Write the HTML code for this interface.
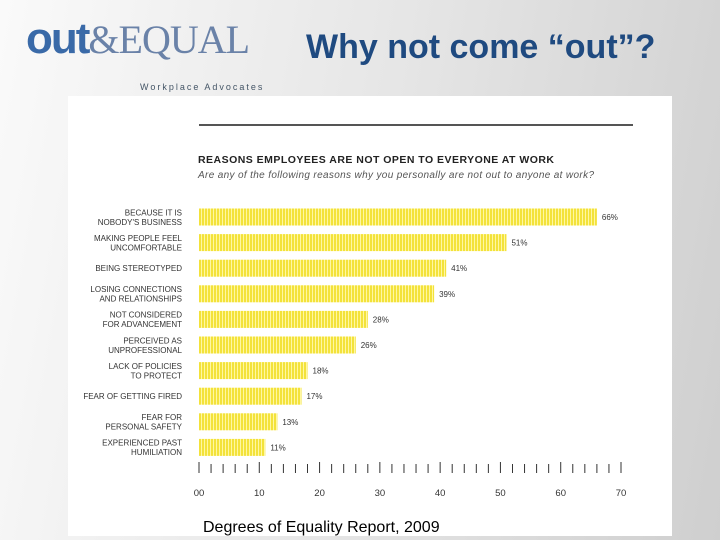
<!DOCTYPE html>
<html><head><meta charset="utf-8"><style>
body{margin:0;width:720px;height:540px;overflow:hidden;font-family:"Liberation Sans",sans-serif;
background:linear-gradient(100deg,#fafafa 0%,#e6e6e6 50%,#cfcfcf 100%);position:relative}
</style></head><body>
<div style="position:absolute;left:26px;top:14px;width:260px;height:78px">
<span style="font:bold 44px 'Liberation Sans',sans-serif;color:#3a6aa8;letter-spacing:-2px">out</span><span style="font:40px 'Liberation Serif',serif;color:#6a82a8;letter-spacing:-1px">&amp;EQUAL</span>
<div style="position:absolute;left:114px;top:68px;font-size:9px;letter-spacing:2px;color:#456">Workplace Advocates</div>
</div>
<div style="position:absolute;left:306px;top:28px;font:bold 34px 'Liberation Sans',sans-serif;color:#1f4a80">Why not come “out”?</div>
<svg style="position:absolute;left:0;top:0" width="720" height="540">
<defs><pattern id="st" width="3" height="10" patternUnits="userSpaceOnUse"><rect width="3" height="10" fill="#f3e23a"/><rect width="1" height="10" fill="#fff7a0"/></pattern></defs>
<rect x="68" y="96" width="604" height="440" fill="#fff"/>
<line x1="199" y1="125" x2="633" y2="125" stroke="#555" stroke-width="2"/>
<text x="198" y="163" font-size="10.5" font-weight="bold" fill="#222" textLength="356">REASONS EMPLOYEES ARE NOT OPEN TO EVERYONE AT WORK</text>
<text x="198" y="178" font-size="10" font-style="italic" fill="#555" textLength="396">Are any of the following reasons why you personally are not out to anyone at work?</text>
<g id="bars"></g><g id="axis"></g>
<text x="203" y="532" font-size="16" fill="#000">Degrees of Equality Report, 2009</text>
</svg>
<script>
const labels=[["BECAUSE IT IS","NOBODY'S BUSINESS"],["MAKING PEOPLE FEEL","UNCOMFORTABLE"],["BEING STEREOTYPED"],["LOSING CONNECTIONS","AND RELATIONSHIPS"],["NOT CONSIDERED","FOR ADVANCEMENT"],["PERCEIVED AS","UNPROFESSIONAL"],["LACK OF POLICIES","TO PROTECT"],["FEAR OF GETTING FIRED"],["FEAR FOR","PERSONAL SAFETY"],["EXPERIENCED PAST","HUMILIATION"]];
const values=[66,51,41,39,28,26,18,17,13,11];
const ticks=["00","10","20","30","40","50","60","70"];
const NS="http://www.w3.org/2000/svg";
const x=v=>199+v*(422/70), y=i=>217+i*25.6;
const bars=document.getElementById('bars'), ax=document.getElementById('axis');
function mk(t,a,p){const e=document.createElementNS(NS,t);for(const k in a)e.setAttribute(k,a[k]);p.appendChild(e);return e;}
values.forEach((v,i)=>{
 const r=mk('rect',{x:x(0),y:y(i)-8.5,width:x(v)-x(0),height:17,fill:'url(#st)'},bars);
 
 
 const t=mk('text',{x:x(v)+5,y:y(i)+3,'font-size':8,fill:'#333'},bars);t.textContent=v+'%';
 
 
 const L=labels[i], l=mk('text',{'text-anchor':'end','font-size':8,fill:'#333'},bars);
 
 
 L.forEach((s,j)=>{const ts=mk('tspan',{x:182,y:y(i)+3+(j-(L.length-1)/2)*9.5},l);ts.textContent=s;});
});
for(let k=0;k<=35;k++){const v=k*2;const big=v%10==0;mk('line',{x1:x(v),x2:x(v),y1:big?462:464,y2:473,stroke:'#333','stroke-width':1},ax);}
ticks.forEach((s,i)=>{const t=mk('text',{x:x(i*10),y:496,'font-size':9.5,fill:'#333','text-anchor':'middle'},ax);t.textContent=s;
 
 });
</script>
</body></html>
